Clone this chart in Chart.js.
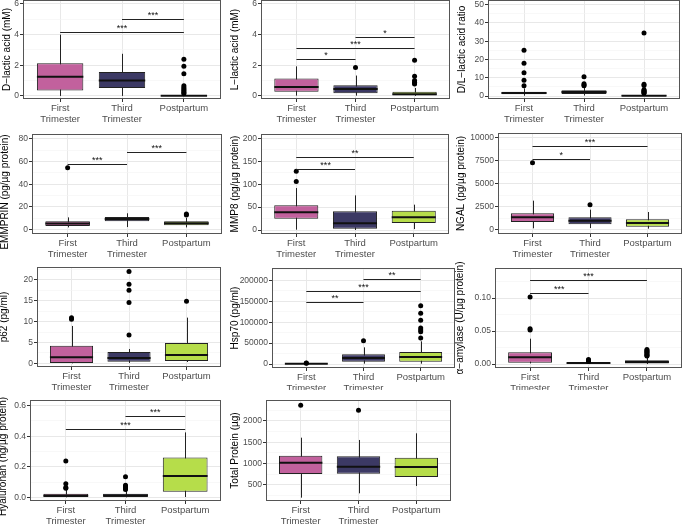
<!DOCTYPE html>
<html>
<head>
<meta charset="utf-8">
<script src="https://cdn.jsdelivr.net/npm/chart.js@4/dist/chart.umd.min.js"></script>
<style>
  html, body { margin: 0; padding: 0; background: #fff; }
  body { width: 683px; height: 526px; position: relative; overflow: hidden; }
  canvas { position: absolute; }
</style>
</head>
<body>
<script>
// ---------- shared categories ----------
const groupValues = [1, 2, 3];
const groupLabels = [['First', 'Trimester'], ['Third', 'Trimester'], ['Postpartum']];
const groupColors = ['#C2619D', '#3C3964', '#B6DD4A'];

// ---------- data: each box = [lower whisker, Q1, median, Q3, upper whisker] ----------
const dLacticTitle = 'D\u2212lactic acid (mM)';
const dLacticBox = [[0.0, 0.35, 1.26, 2.14, 4.0], [0.0, 0.52, 1.0, 1.56, 2.75], [0.0, 0.0, 0.02, 0.05, 0.1]];
const dLacticOut = [[], [], [2.4, 1.93, 1.45, 0.67, 0.55, 0.45, 0.37, 0.28, 0.2, 0.14]];
const dLacticSig = [[1, 3, 4.2, '***'], [2, 3, 5.0, '***']];
const dLacticTicks = [0, 2, 4, 6];
const dLacticTickLabels = ['0', '2', '4', '6'];

const lLacticTitle = 'L\u2212lactic acid (mM)';
const lLacticBox = [[0.02, 0.28, 0.59, 1.13, 1.93], [0.02, 0.17, 0.46, 0.70, 1.33], [0.0, 0.04, 0.11, 0.28, 0.52]];
const lLacticOut = [[], [1.85], [2.33, 1.28, 1.0, 0.9, 0.84, 0.78]];
const lLacticSig = [[1, 2, 2.43, '*'], [1, 3, 3.15, '***'], [2, 3, 3.85, '*']];
const lLacticTicks = [0, 2, 4, 6];
const lLacticTickLabels = ['0', '2', '4', '6'];

const ratioTitle = 'D/L\u2212lactic acid ratio';
const ratioBox = [[0.2, 1.0, 1.7, 2.3, 4.2], [0.3, 1.2, 2.2, 3.2, 5.0], [0.0, 0.05, 0.2, 0.6, 1.4]];
const ratioOut = [[25.1, 18.0, 12.7, 8.7, 5.6], [10.5, 6.7, 6.1, 5.6], [34.5, 6.5, 5.8, 3.5, 3.0, 2.6, 2.2, 1.8, 1.5]];
const ratioSig = [];
const ratioTicks = [0, 10, 20, 30, 40, 50];
const ratioTickLabels = ['0', '10', '20', '30', '40', '50'];

const emmprinTitle = 'EMMPRIN (pg/\u00b5g protein)';
const emmprinBox = [[2.0, 3.2, 5.5, 7.3, 10.8], [2.3, 7.3, 9.4, 11.1, 14.4], [2.0, 3.8, 5.6, 7.3, 10.3]];
const emmprinOut = [[54.5], [], [13.8, 12.8]];
const emmprinSig = [[1, 2, 57.7, '***'], [2, 3, 68.3, '***']];
const emmprinTicks = [0, 20, 40, 60, 80];
const emmprinTickLabels = ['0', '20', '40', '60', '80'];

const mmp8Title = 'MMP8 (pg/\u00b5g protein)';
const mmp8Box = [[0.7, 24.7, 38.5, 53.8, 91.6], [0, 2.9, 14.5, 40.7, 75.6], [2, 15.3, 27.6, 42, 55.3]];
const mmp8Out = [[128, 106], [], []];
const mmp8Sig = [[1, 2, 133, '***'], [1, 3, 159, '**']];
const mmp8Ticks = [0, 50, 100, 150, 200];
const mmp8TickLabels = ['0', '50', '100', '150', '200'];

const ngalTitle = 'NGAL (pg/\u00b5g protein)';
const ngalBox = [[181, 870, 1377, 1812, 3188], [217, 616, 1014, 1377, 2210], [145, 362, 761, 1159, 1956]];
const ngalOut = [[7318], [2754], []];
const ngalSig = [[1, 2, 7681, '*'], [1, 3, 9130, '***']];
const ngalTicks = [0, 2500, 5000, 7500, 10000];
const ngalTickLabels = ['0', '2500', '5000', '7500', '10000'];

const p62Title = 'p62 (pg/ml)';
const p62Box = [[0, 0.08, 1.44, 4.24, 8.96], [0.1, 0.4, 1.28, 2.72, 3.44], [0.32, 0.56, 2.0, 4.88, 10.96]];
const p62Out = [[10.96, 10.56], [22, 18.96, 17.5, 14.56, 6.8], [14.88]];
const p62Sig = [];
const p62Ticks = [0, 5, 10, 15, 20];
const p62TickLabels = ['0', '5', '10', '15', '20'];

const hsp70Title = 'Hsp70 (pg/ml)';
const hsp70Box = [[0, 300, 800, 1500, 3000], [800, 5600, 14300, 23100, 39800], [800, 5600, 16700, 28700, 54200]];
const hsp70Out = [[2500, 2000], [55800], [139400, 121100, 104400, 86000, 81300, 77300, 62100]];
const hsp70Sig = [[1, 2, 147400, '**'], [1, 3, 174500, '***'], [2, 3, 202400, '**']];
const hsp70Ticks = [0, 50000, 100000, 150000, 200000];
const hsp70TickLabels = ['0', '50000', '100000', '150000', '200000'];

const amylaseTitle = '\u03b1\u2212amylase (U/\u00b5g protein)';
const amylaseBox = [[0.001, 0.002, 0.0101, 0.0177, 0.0384], [0, 0.0005, 0.0015, 0.0025, 0.0045], [0, 0.001, 0.003, 0.0056, 0.0106]];
const amylaseOut = [[0.1015, 0.0535, 0.0515], [0.007, 0.0058, 0.005, 0.004], [0.0222, 0.0205, 0.019, 0.0177, 0.016, 0.0145, 0.013, 0.012]];
const amylaseSig = [[1, 2, 0.107, '***'], [1, 3, 0.1268, '***']];
const amylaseTicks = [0, 0.05, 0.10];
const amylaseTickLabels = ['0.00', '0.05', '0.10'];

const hyaluronanTitle = 'Hyaluronan (ng/\u00b5g protein)';
const hyaluronanBox = [[0, 0.002, 0.01, 0.024, 0.05], [0, 0.002, 0.012, 0.024, 0.045], [0.002, 0.037, 0.14, 0.26, 0.425]];
const hyaluronanOut = [[0.238, 0.089, 0.065, 0.059], [0.135, 0.079, 0.072, 0.065, 0.058, 0.052], []];
const hyaluronanSig = [[1, 3, 0.447, '***'], [2, 3, 0.535, '***']];
const hyaluronanTicks = [0, 0.2, 0.4, 0.6];
const hyaluronanTickLabels = ['0.0', '0.2', '0.4', '0.6'];

const proteinTitle = 'Total Protein (\u00b5g)';
const proteinBox = [[203, 758, 1023, 1187, 1609], [305, 766, 930, 1172, 1555], [477, 687, 922, 1141, 1711]];
const proteinOut = [[2367], [2250], []];
const proteinSig = [];
const proteinTicks = [500, 1000, 1500, 2000];
const proteinTickLabels = ['500', '1000', '1500', '2000'];

// ---------- layout (cell = canvas box, plot = panel rectangle, range = y limits, tx/ty = y-title offsets) ----------
const panels = [
  { title: dLacticTitle, box: dLacticBox, out: dLacticOut, sig: dLacticSig, ticks: dLacticTicks, labels: dLacticTickLabels,
    range: [-0.2, 6.26], cell: [0, 0, 228, 128], plot: [23, 0, 221, 99], tx: 7, ty: 0 },
  { title: lLacticTitle, box: lLacticBox, out: lLacticOut, sig: lLacticSig, ticks: lLacticTicks, labels: lLacticTickLabels,
    range: [-0.2, 6.26], cell: [228, 0, 227, 128], plot: [261, 0, 450, 99], tx: 7, ty: 0 },
  { title: ratioTitle, box: ratioBox, out: ratioOut, sig: ratioSig, ticks: ratioTicks, labels: ratioTickLabels,
    range: [-1.6, 52.5], cell: [455, 0, 228, 128], plot: [488, 0, 680, 99], tx: 7, ty: 0 },
  { title: emmprinTitle, box: emmprinBox, out: emmprinOut, sig: emmprinSig, ticks: emmprinTicks, labels: emmprinTickLabels,
    range: [-3.8, 84.1], cell: [0, 128, 228, 130], plot: [32, 134, 222, 234], tx: 5, ty: 8 },
  { title: mmp8Title, box: mmp8Box, out: mmp8Out, sig: mmp8Sig, ticks: mmp8Ticks, labels: mmp8TickLabels,
    range: [-8.7, 209.5], cell: [228, 128, 227, 130], plot: [261, 134, 449, 234], tx: 7, ty: 0 },
  { title: ngalTitle, box: ngalBox, out: ngalOut, sig: ngalSig, ticks: ngalTicks, labels: ngalTickLabels,
    range: [-435, 10543], cell: [455, 128, 228, 130], plot: [498, 133, 682, 234], tx: 6, ty: 0 },
  { title: p62Title, box: p62Box, out: p62Out, sig: p62Sig, ticks: p62Ticks, labels: p62TickLabels,
    range: [-0.88, 23.1], cell: [0, 258, 228, 132], plot: [37, 267, 221, 367], tx: 4, ty: 0 },
  { title: hsp70Title, box: hsp70Box, out: hsp70Out, sig: hsp70Sig, ticks: hsp70Ticks, labels: hsp70TickLabels,
    range: [-9560, 229500], cell: [228, 258, 227, 132], plot: [272, 268, 455, 368], tx: 7, ty: 0 },
  { title: amylaseTitle, box: amylaseBox, out: amylaseOut, sig: amylaseSig, ticks: amylaseTicks, labels: amylaseTickLabels,
    range: [-0.006, 0.1455], cell: [455, 258, 228, 132], plot: [495, 268, 682, 368], tx: 5, ty: 0 },
  { title: hyaluronanTitle, box: hyaluronanBox, out: hyaluronanOut, sig: hyaluronanSig, ticks: hyaluronanTicks, labels: hyaluronanTickLabels,
    range: [-0.024, 0.637], cell: [0, 390, 228, 136], plot: [30, 400, 221, 501], tx: 3, ty: 6 },
  { title: proteinTitle, box: proteinBox, out: proteinOut, sig: proteinSig, ticks: proteinTicks, labels: proteinTickLabels,
    range: [125, 2492], cell: [228, 390, 227, 136], plot: [266, 400, 451, 501], tx: 7, ty: 0 }
];

const FONT = "'Liberation Sans', Arial, Helvetica, sans-serif";
Chart.defaults.font.family = FONT;
const EXTRA = 14; // extra canvas room below each cell so label lines are not clipped

function makePanel(p) {
  const [cx, cy, cw, ch] = p.cell;
  const [l, t, r, b] = p.plot;
  const canvas = document.createElement('canvas');
  canvas.width = cw; canvas.height = ch + EXTRA;
  canvas.style.left = cx + 'px'; canvas.style.top = cy + 'px';
  canvas.style.width = cw + 'px'; canvas.style.height = (ch + EXTRA) + 'px';
  document.body.appendChild(canvas);

  // major ticks + ggplot-style minor grid positions (midpoints)
  const step = p.ticks[1] - p.ticks[0];
  const minors = [];
  for (let i = -1; i < p.ticks.length; i++) {
    const v = p.ticks[0] + (i + 0.5) * step;
    if (v >= p.range[0] && v <= p.range[1]) minors.push(v);
  }
  const yTickObjs = p.ticks.map((v, i) => ({ value: v, label: p.labels[i] }))
    .concat(minors.map(v => ({ value: v, minor: true })))
    .sort((a, c) => a.value - c.value);

  const partsPlugin = {
    id: 'boxParts',
    beforeDatasetsDraw(chart) {
      const ctx = chart.ctx, y = chart.scales.y, meta = chart.getDatasetMeta(0);
      ctx.save();
      ctx.strokeStyle = '#222'; ctx.lineWidth = 1;
      p.box.forEach((s, i) => {
        const el = meta.data[i];
        const x = Math.round(el.x) + 0.5;
        ctx.beginPath();
        ctx.moveTo(x, y.getPixelForValue(s[0]));
        ctx.lineTo(x, y.getPixelForValue(s[4]));
        ctx.stroke();
      });
      ctx.restore();
    },
    afterDatasetDraw(chart, args) {
      if (args.index !== 0) return;
      const ctx = chart.ctx, y = chart.scales.y, meta = chart.getDatasetMeta(0);
      ctx.save();
      ctx.strokeStyle = '#111'; ctx.lineWidth = 2;
      p.box.forEach((s, i) => {
        const el = meta.data[i];
        const yy = y.getPixelForValue(s[2]);
        ctx.beginPath();
        ctx.moveTo(el.x - el.width / 2, yy);
        ctx.lineTo(el.x + el.width / 2, yy);
        ctx.stroke();
      });
      ctx.restore();
    },
    afterDraw(chart) {
      const ctx = chart.ctx, a = chart.chartArea, x = chart.scales.x, y = chart.scales.y;
      ctx.save();
      // significance brackets
      ctx.strokeStyle = '#222'; ctx.lineWidth = 1;
      ctx.fillStyle = '#111';
      ctx.font = '9px ' + FONT;
      ctx.textAlign = 'center'; ctx.textBaseline = 'alphabetic';
      p.sig.forEach(s => {
        const x1 = x.getPixelForValue(s[0]), x2 = x.getPixelForValue(s[1]);
        const yy = Math.round(y.getPixelForValue(s[2])) + 0.5;
        ctx.beginPath(); ctx.moveTo(x1, yy); ctx.lineTo(x2, yy); ctx.stroke();
        ctx.fillText(s[3], (x1 + x2) / 2, yy - 1.5);
      });
      // panel border
      ctx.strokeStyle = '#555'; ctx.lineWidth = 1;
      ctx.strokeRect(a.left + 0.5, a.top + 0.5, a.width - 1, a.height - 1);
      // y-axis title (rotated)
      ctx.save();
      ctx.translate(p.tx, (a.top + a.bottom) / 2 + p.ty);
      ctx.rotate(-Math.PI / 2);
      ctx.fillStyle = '#000';
      ctx.font = '10px ' + FONT;
      ctx.textAlign = 'center'; ctx.textBaseline = 'middle';
      ctx.fillText(p.title, 0, 0);
      ctx.restore();
      ctx.restore();
    }
  };

  new Chart(canvas, {
    type: 'bar',
    data: {
      datasets: [
        {
          type: 'bar',
          order: 1,
          data: p.box.map((s, i) => ({ x: groupValues[i], y: [s[1], s[3]] })),
          backgroundColor: groupColors,
          borderColor: '#222',
          borderWidth: 1,
          borderSkipped: false,
          barPercentage: 0.75,
          categoryPercentage: 1
        },
        {
          type: 'scatter',
          order: 0,
          data: p.out.flatMap((arr, i) => arr.map(v => ({ x: groupValues[i], y: v }))),
          pointRadius: 2.5,
          pointBackgroundColor: '#000',
          pointBorderWidth: 0,
          showLine: false
        }
      ]
    },
    options: {
      responsive: false,
      devicePixelRatio: 1,
      animation: false,
      layout: { autoPadding: false, padding: { left: 0, top: t - cy, right: (cx + cw) - r, bottom: EXTRA } },
      plugins: { legend: { display: false }, tooltip: { enabled: false } },
      scales: {
        x: {
          type: 'linear',
          offset: false,
          min: 0.4, max: 3.6,
          afterBuildTicks: axis => { axis.ticks = groupValues.map(v => ({ value: v })); },
          afterFit: s => { s.height = (cy + ch) - b; s.paddingLeft = 0; s.paddingRight = 0; s.paddingTop = 0; s.paddingBottom = 0; },
          border: { display: false },
          grid: { offset: false, color: '#E8E8E8', lineWidth: 1, tickColor: '#333', tickLength: 3, tickWidth: 1 },
          ticks: {
            autoSkip: false, maxRotation: 0, minRotation: 0, padding: 1,
            color: '#4D4D4D', font: { size: 9.5, lineHeight: 1.15 },
            callback: v => groupLabels[groupValues.indexOf(v)] || ''
          }
        },
        y: {
          type: 'linear',
          min: p.range[0], max: p.range[1],
          afterBuildTicks: axis => { axis.ticks = yTickObjs.map(o => Object.assign({}, o)); },
          afterFit: s => { s.width = l - cx; s.paddingLeft = 0; s.paddingRight = 0; s.paddingTop = 0; s.paddingBottom = 0; },
          border: { display: false },
          grid: {
            color: c => (c.tick && c.tick.minor) ? '#F3F3F3' : '#E8E8E8',
            lineWidth: c => (c.tick && c.tick.minor) ? 0.6 : 1,
            tickColor: c => (c.tick && c.tick.minor) ? 'rgba(0,0,0,0)' : '#333',
            tickLength: 3, tickWidth: 1
          },
          ticks: {
            autoSkip: false, padding: 1,
            color: '#4D4D4D', font: { size: 8.5 },
            callback: (v, i, ticks) => ticks[i].minor ? '' : ticks[i].label
          },
          title: { display: false }
        }
      }
    },
    plugins: [partsPlugin]
  });
}

panels.forEach(makePanel);
</script>
</body>
</html>
